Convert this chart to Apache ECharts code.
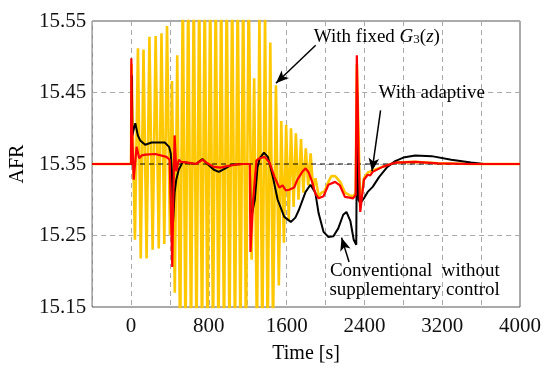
<!DOCTYPE html>
<html><head><meta charset="utf-8">
<script src="https://cdn.jsdelivr.net/npm/echarts@6/dist/echarts.min.js"></script>
<style>html,body{margin:0;padding:0;background:#fff}#c{width:550px;height:373px}</style>
</head><body><div id="c"></div>
<script>
// ---- data (time [s], AFR) ----
const xTickLabels = [0, 800, 1600, 2400, 3200, 4000];
const yTickLabels = [15.15, 15.25, 15.35, 15.45, 15.55];

const refT = [0, 4000];
const refV = [15.35, 15.35];

const yellowT = [-400, 0, 5, 40, 71, 100, 128, 160, 189, 222, 253, 285, 313, 342, 370, 400, 421, 450, 475,
  505, 532, 560, 588, 617, 645, 673, 701, 730, 758, 786, 814, 843, 871, 899, 927, 956, 984, 1012, 1040, 1069,
  1097, 1125, 1153, 1182, 1210, 1240, 1266, 1295, 1320, 1350, 1378, 1405, 1432, 1460, 1490, 1520, 1545, 1572, 1595, 1622,
  1645, 1672, 1695, 1722, 1748, 1772, 1797, 1822, 1847, 1872, 1897, 1930, 1960, 1990, 2030, 2060, 2100, 2150,
  2200, 2250, 2290, 2310, 2322, 2357, 2395, 2434, 2485, 2586, 2720, 2920, 3158, 3500, 4000];
const yellowV = [15.35, 15.35, 15.49, 15.244, 15.512, 15.218, 15.51, 15.218, 15.528, 15.23, 15.529, 15.232, 15.533, 15.238, 15.543, 15.25, 15.466, 15.17, 15.502,
  15.10, 15.60, 15.10, 15.60, 15.10, 15.60, 15.10, 15.60, 15.10, 15.60, 15.10, 15.60, 15.10, 15.60, 15.10, 15.60, 15.10, 15.60, 15.10, 15.60, 15.10,
  15.60, 15.10, 15.60, 15.10, 15.60, 15.216, 15.47, 15.10, 15.56, 15.10, 15.56, 15.10, 15.52, 15.12, 15.46, 15.18, 15.41, 15.24, 15.405, 15.27,
  15.40, 15.29, 15.393, 15.30, 15.385, 15.31, 15.372, 15.32, 15.365, 15.315, 15.33, 15.305, 15.31, 15.312, 15.325, 15.333, 15.333, 15.325,
  15.31, 15.306, 15.305, 15.31, 15.49, 15.29, 15.33, 15.338, 15.341, 15.346, 15.352, 15.353, 15.351, 15.35, 15.35];

const blackT = [-400, 0, 8, 14, 30, 44, 70, 94, 145, 212, 279, 347, 391, 408, 420, 431, 448, 465, 490, 532, 599, 667, 734, 785, 852,
  902, 970, 1037, 1138, 1222, 1232, 1250, 1273, 1300, 1323, 1367, 1407, 1458, 1508, 1576, 1643, 1690, 1727, 1795, 1845, 1895,
  1929, 1980, 2030, 2081, 2131, 2182, 2215, 2256, 2290, 2316, 2325, 2340, 2357, 2400, 2434, 2485, 2552, 2636, 2717, 2800, 2922,
  3091, 3293, 3495, 3630, 4000];
const blackV = [15.35, 15.35, 15.474, 15.39, 15.40, 15.407, 15.39, 15.383, 15.377, 15.38, 15.38, 15.38, 15.374, 15.365, 15.34, 15.265, 15.31, 15.328, 15.342, 15.353, 15.351, 15.35, 15.357, 15.35, 15.342,
  15.339, 15.344, 15.349, 15.35, 15.35, 15.267, 15.285, 15.30, 15.345, 15.358, 15.366, 15.36, 15.332, 15.30, 15.276, 15.269, 15.275, 15.286, 15.311, 15.321, 15.31,
  15.281, 15.255, 15.248, 15.249, 15.26, 15.279, 15.283, 15.27, 15.244, 15.237, 15.45, 15.30, 15.295, 15.303, 15.311, 15.318, 15.332, 15.346, 15.354, 15.359, 15.362,
  15.361, 15.356, 15.352, 15.35, 15.35];

const redT = [-400, 0, 3, 10, 27, 57, 84, 110, 150, 250, 364, 397, 415, 424, 434, 448, 465, 491, 515, 582, 667, 734, 785, 852, 919,
  987, 1071, 1155, 1222, 1228, 1256, 1290, 1323, 1374, 1424, 1475, 1525, 1558, 1592, 1626, 1677, 1710, 1761, 1795, 1828, 1862,
  1895, 1929, 1980, 2030, 2098, 2148, 2199, 2249, 2283, 2310, 2322, 2340, 2357, 2395, 2434, 2460, 2485, 2586, 2720, 2920, 3158, 3500, 4000];
const redV = [15.35, 15.35, 15.498, 15.40, 15.328, 15.374, 15.358, 15.362, 15.363, 15.364, 15.36, 15.356, 15.355, 15.206, 15.30, 15.39, 15.34, 15.356, 15.353, 15.352, 15.35, 15.356, 15.351, 15.346, 15.345,
  15.347, 15.349, 15.35, 15.35, 15.227, 15.30, 15.355, 15.358, 15.36, 15.352, 15.332, 15.317, 15.32, 15.313, 15.314, 15.317, 15.328, 15.339, 15.344, 15.338, 15.325,
  15.309, 15.302, 15.305, 15.321, 15.325, 15.32, 15.304, 15.303, 15.302, 15.307, 15.502, 15.36, 15.283, 15.328, 15.335, 15.334, 15.339, 15.346, 15.352, 15.353, 15.351, 15.35, 15.35];

const zip = (t, v) => t.map((x, i) => [x, v[i]]);
const FONT = 'Liberation Serif, "Times New Roman", serif';

const chart = echarts.init(document.getElementById('c'), null, {renderer: 'canvas'});
const option = {
  animation: false,
  backgroundColor: '#fff',
  grid: {left: 84, right: 30, top: 21, bottom: 66, show: true, borderColor: '#555', borderWidth: 1, backgroundColor: 'transparent'},
  xAxis: {
    type: 'value', min: -400, max: 4000, interval: 400,
    name: 'Time [s]', nameLocation: 'middle', nameGap: 37,
    nameTextStyle: {fontFamily: FONT, fontSize: 20, color: '#000'},
    axisLine: {show: false}, axisTick: {show: false},
    axisLabel: {fontFamily: FONT, fontSize: 21, color: '#111', margin: 9,
      formatter: v => xTickLabels.indexOf(Math.round(v)) >= 0 ? String(Math.round(v)) : ''},
    splitLine: {show: true, showMinLine: true, showMaxLine: true, lineStyle: {color: '#aaa', type: [5, 4], width: 1}}
  },
  yAxis: {
    type: 'value', min: 15.15, max: 15.55, interval: 0.05,
    name: 'AFR', nameLocation: 'middle', nameGap: 50, nameRotate: 90,
    nameTextStyle: {fontFamily: FONT, fontSize: 20, color: '#000'},
    axisLine: {show: false}, axisTick: {show: false},
    axisLabel: {fontFamily: FONT, fontSize: 21, color: '#111', margin: 6,
      formatter: v => yTickLabels.some(y => Math.abs(y - v) < 1e-6) ? v.toFixed(2) : ''},
    splitLine: {show: true, showMinLine: true, showMaxLine: true, lineStyle: {color: ['#aaa', 'rgba(0,0,0,0)'], type: [5, 4], width: 1}}
  },
  series: [
    {name: 'With fixed G3(z)', type: 'line', data: zip(yellowT, yellowV), showSymbol: false, symbol: 'none',
      lineStyle: {color: '#FFC800', width: 2.6}, clip: true},
    {name: 'ref', type: 'line', data: zip(refT, refV), showSymbol: false, symbol: 'none',
      lineStyle: {color: '#000', width: 1.2, type: [5, 4]},
      markLine: {silent: true, symbol: ['none', 'arrow'], symbolSize: [8, 13], label: {show: false},
        lineStyle: {color: '#000', width: 1.5, type: 'solid'},
        data: [
          [{coord: [1899, 15.516]}, {coord: [1490, 15.463]}],
          [{coord: [2566, 15.425]}, {coord: [2478, 15.340]}],
          [{coord: [2242, 15.213]}, {coord: [2165, 15.247]}]
        ]}},
    {name: 'Conventional', type: 'line', data: zip(blackT, blackV), showSymbol: false, symbol: 'none',
      lineStyle: {color: '#000', width: 2}, clip: true},
    {name: 'With adaptive', type: 'line', data: zip(redT, redV), showSymbol: false, symbol: 'none',
      lineStyle: {color: '#F00', width: 2.2}, clip: true}
  ]
};
chart.setOption(option);

const px = (t, v) => chart.convertToPixel({gridIndex: 0}, [t, v]);
const p1 = px(1880, 15.528), p2 = px(2545, 15.449), p3 = px(2045, 15.200), p4 = px(2040, 15.174);
const txt = (p, text, rich) => ({type: 'text', x: p[0], y: p[1], z: 100,
  style: {text: text, fontFamily: FONT, fontSize: 19, fill: '#000', align: 'left', verticalAlign: 'middle', rich: rich}});
chart.setOption({graphic: [
  txt(p1, 'With fixed {i|G}{s|3}({i|z})', {
    i: {fontFamily: FONT, fontSize: 19, fontStyle: 'italic', fill: '#000'},
    s: {fontFamily: FONT, fontSize: 13, fill: '#000', verticalAlign: 'bottom', padding: [6, 0, 0, 0]}
  }),
  txt(p2, 'With adaptive'),
  txt(p3, 'Conventional  without'),
  txt(p4, 'supplementary control')
]});
</script></body></html>
